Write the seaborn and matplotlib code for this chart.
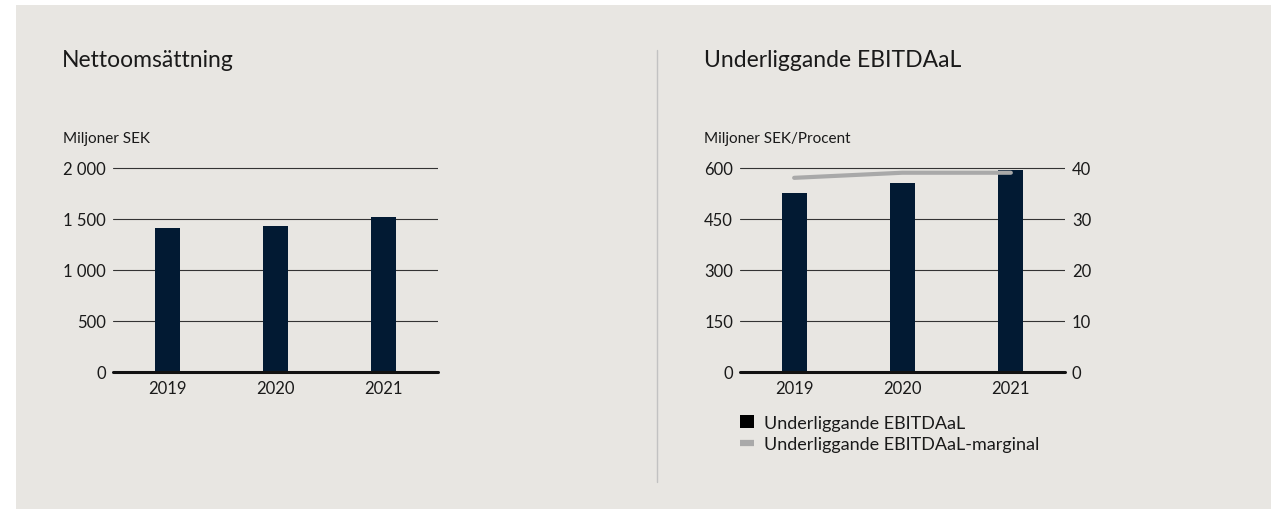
import numpy as np
import pandas as pd
import seaborn as sns
import matplotlib.pyplot as plt
from matplotlib.patches import Patch, Rectangle
from matplotlib.lines import Line2D
from matplotlib.ticker import FuncFormatter

# Data
years = ["2019", "2020", "2021"]
net_sales = [1408, 1427, 1515]
ebitdaal = [526, 555, 593]
ebitdaal_margin = [38.0, 39.0, 39.0]

bg = "#e8e6e2"
navy = "#021a33"
grey_line = "#a9a9a9"

sns.set_theme(style="white")
plt.rcParams["font.family"] = ["Lato", "DejaVu Sans"]
plt.rcParams["text.color"] = "#1a1a1a"

W, H = 1271, 510
fig = plt.figure(figsize=(W / 100, H / 100), dpi=100, facecolor="white")
fig.patches.append(Rectangle((16 / W, 0), 1, 1 - 6 / H, transform=fig.transFigure,
                             facecolor=bg, edgecolor="none", zorder=-10))


def px(x0, y_top, w, h):
    return [x0 / W, 1 - (y_top + h) / H, w / W, h / H]


def space_thousands(v, pos):
    return f"{int(v):,}".replace(",", " ")


def style_axis(ax, ymax, step):
    ax.set_facecolor("none")
    ax.set_ylim(0, ymax * 1.003)
    ax.set_yticks(np.arange(0, ymax + 1, step))
    ax.set_xlim(-0.5, 2.5)
    ax.grid(axis="y", color="#333333", linewidth=0.8)
    ax.set_axisbelow(True)
    for s in ax.spines.values():
        s.set_visible(False)
    ax.tick_params(axis="both", length=0, labelsize=12, colors="#1a1a1a")
    ax.tick_params(axis="y", pad=5)
    ax.tick_params(axis="x", pad=6)
    ax.set_xlabel("")
    ax.set_ylabel("")
    ax.axhline(0, color="#111111", linewidth=2.2, zorder=5, clip_on=False)


# Left: Nettoomsättning
ax1 = fig.add_axes(px(113, 168, 325, 205))
df1 = pd.DataFrame({"year": years, "value": net_sales})
sns.barplot(data=df1, x="year", y="value", color=navy, width=0.23,
            saturation=1, linewidth=0, ax=ax1, zorder=3)
style_axis(ax1, 2000, 500)
ax1.yaxis.set_major_formatter(FuncFormatter(space_thousands))

# Right: Underliggande EBITDAaL
ax2 = fig.add_axes(px(740, 168, 325, 205))
df2 = pd.DataFrame({"year": years, "value": ebitdaal, "margin": ebitdaal_margin})
sns.barplot(data=df2, x="year", y="value", color=navy, width=0.23,
            saturation=1, linewidth=0, ax=ax2, zorder=3)
style_axis(ax2, 600, 150)

ax3 = ax2.twinx()
sns.lineplot(x=np.arange(len(years)), y=df2["margin"], color=grey_line,
             linewidth=3, ax=ax3, zorder=4, solid_capstyle="round")
ax3.set_ylim(0, 40 * 1.003)
ax3.set_yticks([0, 10, 20, 30, 40])
ax3.set_ylabel("")
for s in ax3.spines.values():
    s.set_visible(False)
ax3.tick_params(axis="y", length=0, labelsize=12, pad=5, colors="#1a1a1a")
ax3.grid(False)

# Titles and unit labels
fig.text(62 / W, 1 - 67 / H, "Nettoomsättning", fontsize=16.5, va="baseline")
fig.text(704 / W, 1 - 67 / H, "Underliggande EBITDAaL", fontsize=16.5, va="baseline")
fig.text(63 / W, 1 - 143 / H, "Miljoner SEK", fontsize=11, va="baseline")
fig.text(704 / W, 1 - 143 / H, "Miljoner SEK/Procent", fontsize=11, va="baseline")

# Divider
fig.add_artist(Line2D([657 / W, 657 / W], [1 - 483 / H, 1 - 51 / H],
                      transform=fig.transFigure, color="#c2c2c2", linewidth=1))

# Legend
handles = [Patch(facecolor="#000000", edgecolor="none"),
           Line2D([], [], color=grey_line, linewidth=4.5, solid_capstyle="butt")]
labels = ["Underliggande EBITDAaL", "Underliggande EBITDAaL-marginal"]
fig.legend(handles, labels, loc="upper left", bbox_to_anchor=(740 / W, 1 - 416 / H),
           frameon=False, fontsize=13, handlelength=0.75, handleheight=0.75,
           handletextpad=0.6, labelspacing=0.3, borderpad=0, borderaxespad=0)

fig.savefig("out.png", dpi=100, facecolor="white")
